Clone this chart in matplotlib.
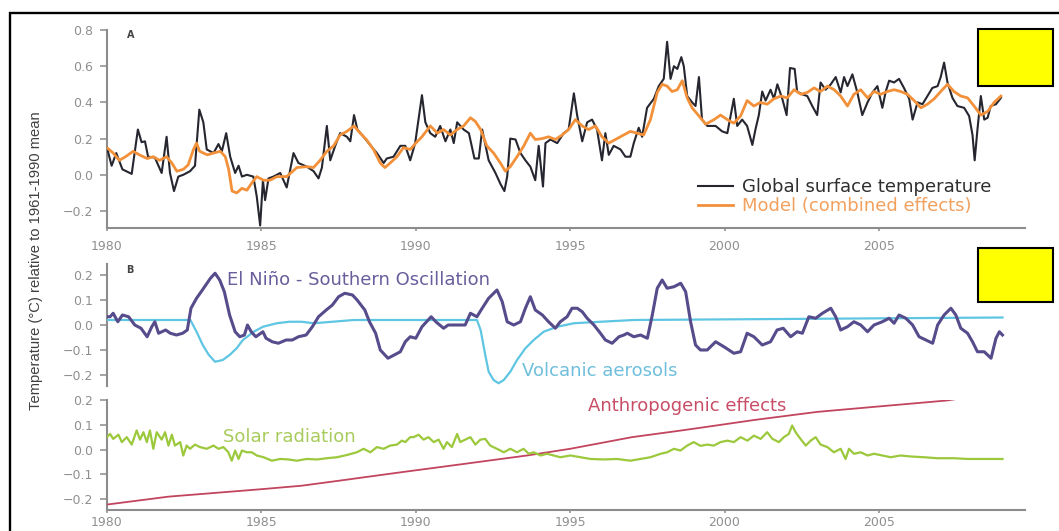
import matplotlib
matplotlib.use('Agg')
import matplotlib.pyplot as plt
from matplotlib.patches import Rectangle
from matplotlib.ticker import FuncFormatter

# ---------------- data ----------------
gt_year = [1980.0, 1980.15, 1980.3, 1980.5, 1980.8, 1981.0, 1981.12, 1981.23, 1981.33, 1981.55,
           1981.77, 1981.93, 1982.04, 1982.17, 1982.31, 1982.47, 1982.69, 1982.85, 1982.99, 1983.12,
           1983.23, 1983.45, 1983.61, 1983.72, 1983.86, 1983.99, 1984.15, 1984.26, 1984.37, 1984.53,
           1984.74, 1984.85, 1984.96, 1985.05, 1985.12, 1985.23, 1985.39, 1985.61, 1985.82, 1986.04,
           1986.2, 1986.47, 1986.69, 1986.85, 1986.96, 1987.12, 1987.23, 1987.39, 1987.55, 1987.77,
           1987.88, 1988.0, 1988.11, 1988.31, 1988.52, 1988.74, 1988.96, 1989.06, 1989.28, 1989.5,
           1989.66, 1989.82, 1989.98, 1990.2, 1990.31, 1990.47, 1990.63, 1990.79, 1990.96, 1991.12,
           1991.23, 1991.34, 1991.55, 1991.72, 1991.9, 1992.04, 1992.15, 1992.36, 1992.58, 1992.74,
           1992.87, 1992.96, 1993.06, 1993.23, 1993.39, 1993.55, 1993.71, 1993.87, 1993.98, 1994.12,
           1994.2, 1994.36, 1994.58, 1994.79, 1994.95, 1995.12, 1995.23, 1995.39, 1995.55, 1995.71,
           1995.87, 1996.03, 1996.14, 1996.25, 1996.41, 1996.63, 1996.79, 1996.95, 1997.06, 1997.22,
           1997.33, 1997.49, 1997.71, 1997.87, 1998.03, 1998.14, 1998.25, 1998.36, 1998.47, 1998.6,
           1998.68, 1998.79, 1998.95, 1999.06, 1999.17, 1999.27, 1999.44, 1999.71, 1999.92, 2000.09,
           2000.3, 2000.41, 2000.57, 2000.73, 2000.9, 2001.0, 2001.11, 2001.22, 2001.33, 2001.49,
           2001.6, 2001.71, 2001.87, 2002.01, 2002.12, 2002.27, 2002.35, 2002.51, 2002.68, 2002.84,
           2003.0, 2003.11, 2003.27, 2003.44, 2003.6, 2003.76, 2003.87, 2003.98, 2004.14, 2004.3,
           2004.46, 2004.63, 2004.79, 2004.95, 2005.11, 2005.22, 2005.33, 2005.49, 2005.65, 2005.81,
           2005.98, 2006.09, 2006.25, 2006.41, 2006.57, 2006.73, 2006.9, 2007.0, 2007.11, 2007.22,
           2007.38, 2007.54, 2007.76, 2007.92, 2008.03, 2008.1, 2008.19, 2008.3, 2008.41, 2008.52,
           2008.62, 2008.79, 2008.95]
gt_val = [0.15, 0.05, 0.12, 0.03, 0.005, 0.25, 0.18, 0.185, 0.10, 0.095,
          0.01, 0.21, 0.01, -0.09, -0.01, 0.0, 0.02, 0.05, 0.36, 0.29,
          0.14, 0.12, 0.17, 0.13, 0.23, 0.10, 0.01, 0.05, -0.01, 0.0,
          -0.01, -0.12, -0.28, -0.03, -0.14, -0.02, -0.01, 0.01, -0.07, 0.12,
          0.065, 0.045, 0.02, -0.02, 0.04, 0.27, 0.08, 0.16, 0.23, 0.21,
          0.185, 0.33, 0.25, 0.21, 0.165, 0.12, 0.065, 0.09, 0.10, 0.16,
          0.16, 0.08, 0.175, 0.44, 0.29, 0.23, 0.21, 0.27, 0.185, 0.25,
          0.175, 0.29, 0.25, 0.23, 0.09, 0.09, 0.25, 0.08, 0.01, -0.05,
          -0.09, -0.01, 0.20, 0.195, 0.12, 0.08, 0.045, -0.03, 0.16, -0.065,
          0.175, 0.195, 0.175, 0.23, 0.25, 0.45, 0.325, 0.185, 0.29, 0.305,
          0.25, 0.08, 0.23, 0.11, 0.16, 0.14, 0.10, 0.10, 0.175, 0.26,
          0.21, 0.37, 0.42, 0.49, 0.53, 0.735, 0.53, 0.60, 0.585, 0.65,
          0.60, 0.435, 0.40, 0.38, 0.54, 0.305, 0.27, 0.27, 0.24, 0.23,
          0.42, 0.27, 0.305, 0.27, 0.165, 0.25, 0.33, 0.46, 0.41, 0.47,
          0.42, 0.50, 0.42, 0.33, 0.59, 0.585, 0.46, 0.445, 0.435, 0.38,
          0.33, 0.51, 0.47, 0.50, 0.54, 0.455, 0.54, 0.49, 0.555, 0.455,
          0.33, 0.40, 0.455, 0.49, 0.37, 0.46, 0.52, 0.51, 0.53, 0.48,
          0.42, 0.305, 0.40, 0.39, 0.435, 0.48, 0.49, 0.54, 0.62, 0.51,
          0.425, 0.38, 0.37, 0.325, 0.22, 0.08, 0.25, 0.435, 0.305, 0.315,
          0.38, 0.39, 0.425]

model_year = [1980.0, 1980.2, 1980.4, 1980.6, 1980.85, 1981.05, 1981.3, 1981.5, 1981.7, 1981.93,
              1982.1, 1982.26, 1982.47, 1982.63, 1982.8, 1982.9, 1983.0, 1983.25, 1983.45, 1983.67,
              1983.83, 1983.94, 1984.05, 1984.2, 1984.37, 1984.53, 1984.69, 1984.85, 1985.07, 1985.28,
              1985.5, 1985.82, 1986.15, 1986.47, 1986.69, 1986.9, 1987.12, 1987.34, 1987.55, 1987.77,
              1988.0, 1988.2, 1988.4, 1988.63, 1988.85, 1989.0, 1989.17, 1989.39, 1989.6, 1989.82,
              1990.0, 1990.2, 1990.47, 1990.7, 1990.9, 1991.12, 1991.34, 1991.55, 1991.77, 1991.93,
              1992.1, 1992.3, 1992.52, 1992.74, 1992.9, 1993.06, 1993.28, 1993.5, 1993.71, 1993.87,
              1994.09, 1994.3, 1994.52, 1994.74, 1994.95, 1995.17, 1995.39, 1995.6, 1995.82, 1996.03,
              1996.25, 1996.52, 1996.74, 1996.95, 1997.17, 1997.38, 1997.6, 1997.82, 1997.98, 1998.14,
              1998.3, 1998.47, 1998.63, 1998.79, 1998.95, 1999.17, 1999.39, 1999.66, 1999.87, 2000.09,
              2000.3, 2000.52, 2000.73, 2000.95, 2001.16, 2001.38, 2001.6, 2001.82, 2002.03, 2002.25,
              2002.47, 2002.68, 2002.9, 2003.11, 2003.33, 2003.55, 2003.76, 2003.98, 2004.19, 2004.41,
              2004.63, 2004.84, 2005.06, 2005.27, 2005.49, 2005.71, 2005.92, 2006.14, 2006.36, 2006.57,
              2006.79, 2007.0, 2007.22, 2007.43, 2007.65, 2007.87, 2008.08, 2008.3, 2008.52, 2008.73,
              2008.95]
model_val = [0.15, 0.12, 0.08, 0.10, 0.13, 0.11, 0.09, 0.10, 0.08, 0.10,
             0.065, 0.02, 0.03, 0.055, 0.14, 0.175, 0.13, 0.11, 0.12, 0.13,
             0.10, 0.03, -0.09, -0.10, -0.075, -0.085, -0.045, -0.01, -0.03, -0.03,
             -0.01, -0.01, 0.04, 0.045, 0.04, 0.08, 0.13, 0.16, 0.22, 0.24,
             0.27, 0.23, 0.195, 0.14, 0.065, 0.04, 0.065, 0.10, 0.15, 0.14,
             0.175, 0.21, 0.27, 0.23, 0.25, 0.22, 0.25, 0.27, 0.315, 0.295,
             0.25, 0.16, 0.12, 0.065, 0.02, 0.045, 0.10, 0.16, 0.23, 0.195,
             0.20, 0.21, 0.195, 0.22, 0.25, 0.305, 0.27, 0.25, 0.27, 0.21,
             0.175, 0.20, 0.22, 0.24, 0.23, 0.22, 0.305, 0.455, 0.50, 0.49,
             0.46, 0.47, 0.52, 0.425, 0.37, 0.325, 0.28, 0.305, 0.33, 0.305,
             0.285, 0.325, 0.41, 0.38, 0.40, 0.39, 0.42, 0.435, 0.425, 0.47,
             0.445, 0.455, 0.48, 0.46, 0.49, 0.47, 0.435, 0.38, 0.445, 0.47,
             0.425, 0.46, 0.445, 0.46, 0.47, 0.46, 0.445, 0.41, 0.37, 0.39,
             0.42, 0.46, 0.50, 0.46, 0.435, 0.425, 0.38, 0.33, 0.35, 0.40,
             0.435]

enso_year = [1980.0, 1980.1, 1980.2, 1980.35, 1980.5, 1980.7, 1980.9, 1981.1, 1981.3, 1981.45,
             1981.55, 1981.67, 1981.9, 1982.05, 1982.25, 1982.45, 1982.6, 1982.72, 1982.9, 1983.05,
             1983.2, 1983.35, 1983.5, 1983.65, 1983.8, 1983.97, 1984.15, 1984.3, 1984.45, 1984.55,
             1984.67, 1984.82, 1985.05, 1985.15, 1985.35, 1985.55, 1985.8, 1986.0, 1986.2, 1986.45,
             1986.65, 1986.85, 1987.1, 1987.3, 1987.5, 1987.7, 1987.95, 1988.1, 1988.35, 1988.5,
             1988.7, 1988.85, 1989.1, 1989.3, 1989.5, 1989.66, 1989.82, 1990.0, 1990.2, 1990.5,
             1990.65, 1990.9, 1991.05, 1991.27, 1991.6, 1991.77, 1991.98, 1992.15, 1992.36, 1992.63,
             1992.8, 1992.96, 1993.17, 1993.39, 1993.55, 1993.71, 1993.87, 1994.1, 1994.3, 1994.52,
             1994.68, 1994.9, 1995.06, 1995.23, 1995.39, 1995.55, 1995.77, 1995.98, 1996.14, 1996.36,
             1996.58, 1996.74, 1996.85, 1997.06, 1997.28, 1997.5, 1997.66, 1997.82, 1997.98, 1998.14,
             1998.36, 1998.58, 1998.74, 1998.9, 1999.06, 1999.22, 1999.44, 1999.71, 1999.98, 2000.3,
             2000.52, 2000.73, 2000.95, 2001.22, 2001.49, 2001.7, 2001.9, 2002.14, 2002.35, 2002.52,
             2002.73, 2002.95, 2003.17, 2003.44, 2003.6, 2003.76, 2003.98, 2004.19, 2004.41, 2004.63,
             2004.84, 2005.11, 2005.33, 2005.49, 2005.65, 2005.87, 2006.09, 2006.3, 2006.52, 2006.74,
             2006.9, 2007.11, 2007.33, 2007.49, 2007.65, 2007.87, 2008.03, 2008.19, 2008.41, 2008.63,
             2008.79, 2008.9, 2009.0]
enso_val = [0.033, 0.033, 0.047, 0.013, 0.04, 0.033, 0.0, -0.013, -0.047, -0.007,
            0.013, -0.033, -0.02, -0.033, -0.04, -0.033, -0.02, 0.067, 0.107, 0.133,
            0.16, 0.187, 0.207, 0.18, 0.133, 0.04, -0.027, -0.047, -0.04, 0.0,
            -0.027, -0.047, -0.027, -0.053, -0.067, -0.073, -0.06, -0.06, -0.047, -0.04,
            -0.007, 0.033, 0.06, 0.08, 0.113, 0.127, 0.12, 0.10, 0.06, 0.013,
            -0.033, -0.10, -0.133, -0.12, -0.107, -0.067, -0.047, -0.053, -0.007, 0.033,
            0.013, -0.013, 0.0, 0.0, 0.0, 0.047, 0.033, 0.067, 0.107, 0.14,
            0.093, 0.013, 0.0, 0.013, 0.067, 0.113, 0.06, 0.04, 0.013, -0.013,
            0.013, 0.033, 0.067, 0.067, 0.053, 0.027, 0.0, -0.033, -0.06, -0.073,
            -0.047, -0.04, -0.033, -0.047, -0.04, -0.053, 0.04, 0.147, 0.18, 0.147,
            0.153, 0.167, 0.133, 0.013, -0.08, -0.10, -0.10, -0.067, -0.087, -0.113,
            -0.107, -0.033, -0.047, -0.08, -0.067, -0.02, -0.013, -0.047, -0.027, -0.033,
            0.033, 0.027, 0.047, 0.067, 0.033, -0.02, -0.007, 0.013, 0.0, -0.027,
            0.0, 0.013, 0.027, 0.007, 0.04, 0.027, 0.0, -0.047, -0.06, -0.073,
            0.0, 0.04, 0.067, 0.04, -0.013, -0.033, -0.067, -0.107, -0.107, -0.133,
            -0.053, -0.027, -0.04]

volc_year = [1980.0, 1982.7, 1982.9, 1983.1, 1983.3, 1983.5, 1983.75, 1983.97, 1984.2, 1984.4,
             1984.75, 1985.05, 1985.5, 1985.9, 1986.3, 1986.7, 1987.3, 1988.0, 1991.98, 1992.1,
             1992.25, 1992.36, 1992.52, 1992.68, 1992.85, 1993.06, 1993.28, 1993.55, 1993.82, 1994.14,
             1994.58, 1995.12, 1995.98, 1997.06, 2009.0]
volc_val = [0.02, 0.02, -0.027, -0.08, -0.12, -0.147, -0.14, -0.12, -0.093, -0.06,
            -0.027, -0.007, 0.007, 0.013, 0.013, 0.007, 0.013, 0.02, 0.02, -0.02,
            -0.12, -0.187, -0.22, -0.233, -0.22, -0.187, -0.14, -0.093, -0.06, -0.027,
            -0.007, 0.007, 0.013, 0.02, 0.03]

solar_year = [1980.0, 1980.1, 1980.2, 1980.37, 1980.48, 1980.64, 1980.8, 1980.96, 1981.07, 1981.18,
              1981.29, 1981.39, 1981.5, 1981.61, 1981.77, 1981.88, 1981.99, 1982.1, 1982.2, 1982.37,
              1982.47, 1982.58, 1982.69, 1982.85, 1983.01, 1983.23, 1983.45, 1983.61, 1983.77, 1983.93,
              1984.04, 1984.15, 1984.26, 1984.37, 1984.53, 1984.69, 1984.85, 1985.07, 1985.34, 1985.61,
              1985.88, 1986.15, 1986.47, 1986.8, 1987.12, 1987.45, 1987.77, 1988.09, 1988.31, 1988.53,
              1988.74, 1988.96, 1989.17, 1989.39, 1989.55, 1989.66, 1989.82, 1989.93, 1990.09, 1990.25,
              1990.41, 1990.58, 1990.74, 1990.9, 1991.01, 1991.17, 1991.34, 1991.44, 1991.6, 1991.77,
              1991.93, 1992.09, 1992.25, 1992.41, 1992.63, 1992.85, 1993.06, 1993.28, 1993.49, 1993.66,
              1993.82, 1994.04, 1994.25, 1994.47, 1994.68, 1995.01, 1995.33, 1995.66, 1996.09, 1996.52,
              1996.95, 1997.28, 1997.6, 1997.93, 1998.14, 1998.36, 1998.57, 1998.79, 1999.0, 1999.22,
              1999.44, 1999.65, 1999.87, 2000.09, 2000.3, 2000.52, 2000.74, 2000.95, 2001.17, 2001.38,
              2001.55, 2001.76, 2001.92, 2002.08, 2002.19, 2002.3, 2002.46, 2002.63, 2002.79, 2002.95,
              2003.11, 2003.33, 2003.54, 2003.76, 2003.92, 2004.03, 2004.19, 2004.41, 2004.63, 2004.84,
              2005.11, 2005.38, 2005.7, 2006.03, 2006.46, 2006.89, 2007.43, 2007.87, 2008.41, 2009.0]
solar_val = [0.05, 0.063, 0.043, 0.06, 0.03, 0.05, 0.02, 0.077, 0.04, 0.07,
             0.03, 0.077, 0.003, 0.07, 0.04, 0.07, 0.016, 0.06, 0.016, 0.03,
             -0.024, 0.016, 0.003, 0.02, 0.01, 0.003, 0.016, 0.003, 0.01, -0.011,
             -0.045, -0.004, -0.038, -0.004, -0.011, -0.011, -0.024, -0.031, -0.045, -0.038,
             -0.04, -0.045, -0.038, -0.04, -0.035, -0.031, -0.022, -0.011, 0.003, -0.011,
             0.01, 0.003, 0.016, 0.02, 0.036, 0.03, 0.05, 0.05, 0.06, 0.04,
             0.05, 0.03, 0.04, 0.003, 0.03, 0.01, 0.063, 0.03, 0.04, 0.05,
             0.02, 0.04, 0.043, 0.016, 0.003, -0.011, 0.003, -0.011, 0.003, -0.017,
             -0.011, -0.024, -0.017, -0.024, -0.031, -0.024, -0.031, -0.038, -0.04, -0.038,
             -0.045, -0.038, -0.031, -0.017, -0.011, 0.003, -0.004, 0.016, 0.03, 0.015,
             0.02, 0.016, 0.03, 0.036, 0.03, 0.05, 0.036, 0.056, 0.043, 0.07,
             0.043, 0.03, 0.05, 0.063, 0.097, 0.07, 0.043, 0.016, 0.036, 0.05,
             0.02, 0.01, -0.011, 0.003, -0.038, 0.003, -0.017, -0.011, -0.024, -0.017,
             -0.024, -0.031, -0.024, -0.028, -0.031, -0.035, -0.035, -0.038, -0.038, -0.038]

anthro_year = [1980.0, 1982.0, 1985.0, 1986.3, 1987.5, 1989.5, 1991.5, 1993.6, 1995.0, 1997.0,
               1998.6, 1999.5, 2001.0, 2003.0, 2005.0, 2007.2, 2009.0]
anthro_val = [-0.222, -0.19, -0.16, -0.146, -0.126, -0.092, -0.059, -0.024, 0.003, 0.05,
              0.077, 0.093, 0.12, 0.152, 0.174, 0.198, 0.233]

tick_years = [1980, 1985, 1990, 1995, 2000, 2005]
yticks_A = [-0.2, 0.0, 0.2, 0.4, 0.6, 0.8]
yticks_B = [-0.2, -0.1, 0.0, 0.1, 0.2]

assert len(gt_year) == len(gt_val)
assert len(model_year) == len(model_val)
assert len(enso_year) == len(enso_val)
assert len(volc_year) == len(volc_val)
assert len(solar_year) == len(solar_val)
assert len(anthro_year) == len(anthro_val)

# ---------------- figure ----------------
W, H = 1059, 531
fig = plt.figure(figsize=(W / 100, H / 100), dpi=100)
fig.patch.set_facecolor('white')


def fx(px):
    return px / W


def fy(py):
    return 1 - py / H


X0, X1 = 107, 1025
left = fx(X0)
width = fx(X1) - fx(X0)
axA = fig.add_axes([left, fy(228), width, fy(30) - fy(228)])
axB1 = fig.add_axes([left, fy(386), width, fy(264) - fy(386)])
axB2 = fig.add_axes([left, fy(510), width, fy(400) - fy(510)])

SPINE = '#8c8c8c'
TICKC = '#8f8f8f'
xlim = (1980.0, 2009.73)

fmt = FuncFormatter(lambda v, p: ('%.1f' % v).replace('-', '\u2212') if abs(v) > 1e-9 else '0.0')

for ax in (axA, axB1, axB2):
    ax.set_facecolor('none')
    for s in ('top', 'right'):
        ax.spines[s].set_visible(False)
    for s in ('left', 'bottom'):
        ax.spines[s].set_color(SPINE)
        ax.spines[s].set_linewidth(1.5)
    ax.set_xlim(*xlim)
    ax.yaxis.set_major_formatter(fmt)
    ax.tick_params(axis='y', direction='out', length=5, width=1.1, color=SPINE,
                   labelsize=9, labelcolor=TICKC, pad=5)
    ax.tick_params(axis='x', direction='out', length=2.5, width=1.1, color=SPINE,
                   labelsize=9, labelcolor=TICKC, pad=6)
    ax.set_xticks(tick_years)
    ax.set_xticklabels([str(t) for t in tick_years])

axA.set_ylim(-0.294, 0.8)
axA.set_yticks(yticks_A)
axB1.set_ylim(-0.244, 0.244)
axB1.set_yticks(yticks_B)
axB1.spines['bottom'].set_visible(False)
axB1.tick_params(axis='x', bottom=False, labelbottom=False)
axB2.set_ylim(-0.244, 0.2)
axB2.set_yticks(yticks_B)
axB2.tick_params(axis='x', pad=1.5)

# ---------------- series ----------------
l_gt, = axA.plot(gt_year, gt_val, color='#25262f', lw=1.5, label='Global surface temperature', zorder=3)
l_mod, = axA.plot(model_year, model_val, color='#f2913a', lw=2.0, label='Model (combined effects)', zorder=4)

axB1.plot(volc_year, volc_val, color='#5ec6e2', lw=1.6, zorder=3)
axB1.plot(enso_year, enso_val, color='#564b8b', lw=2.2, zorder=4)

axB2.plot(anthro_year, anthro_val, color='#c2455e', lw=1.3, zorder=3)
axB2.plot(solar_year, solar_val, color='#9cc83c', lw=1.6, zorder=4)

leg = axA.legend(handles=[l_gt, l_mod], loc='upper left',
                 bbox_to_anchor=(fx(698), fy(178)), bbox_transform=fig.transFigure,
                 frameon=False, fontsize=13, handlelength=1.95, handletextpad=0.5,
                 borderpad=0, borderaxespad=0, labelspacing=0.05)
leg.get_texts()[0].set_color('#2f2f2f')
leg.get_texts()[1].set_color('#f2a05e')

# ---------------- texts ----------------
fig.text(fx(131), fy(35), 'A', fontsize=7, fontweight='bold', color='#444444', ha='center', va='center')
fig.text(fx(130), fy(270), 'B', fontsize=7, fontweight='bold', color='#444444', ha='center', va='center')

fig.text(fx(227), fy(280), 'El Niño - Southern Oscillation', fontsize=13, color='#6a5d9c', ha='left', va='center')
fig.text(fx(522), fy(371), 'Volcanic aerosols', fontsize=13, color='#6fbfdc', ha='left', va='center')
fig.text(fx(588), fy(406), 'Anthropogenic effects', fontsize=13, color='#c84e67', ha='left', va='center')
fig.text(fx(223), fy(437), 'Solar radiation', fontsize=13, color='#a9cb5c', ha='left', va='center')

fig.text(fx(36), fy(261), 'Temperature (\u00b0C) relative to 1961-1990 mean', rotation=90,
         fontsize=10.6, color='#404040', ha='center', va='center',
         family=['Liberation Sans', 'DejaVu Sans'])

# outer frame (only top and left edges fall inside the image)
fig.add_artist(Rectangle((fx(10), fy(600)), 1.5, fy(13) - fy(600), transform=fig.transFigure,
                         fill=False, edgecolor='black', lw=1.7, clip_on=False))

# yellow boxes
for (xa, ya, xb, yb) in [(978, 29, 1053, 86), (978, 248, 1053, 302)]:
    fig.add_artist(Rectangle((fx(xa), fy(yb)), fx(xb) - fx(xa), fy(ya) - fy(yb),
                             transform=fig.transFigure, facecolor='#ffff00',
                             edgecolor='black', lw=1.5, zorder=10))

fig.savefig('out.png', dpi=100)
